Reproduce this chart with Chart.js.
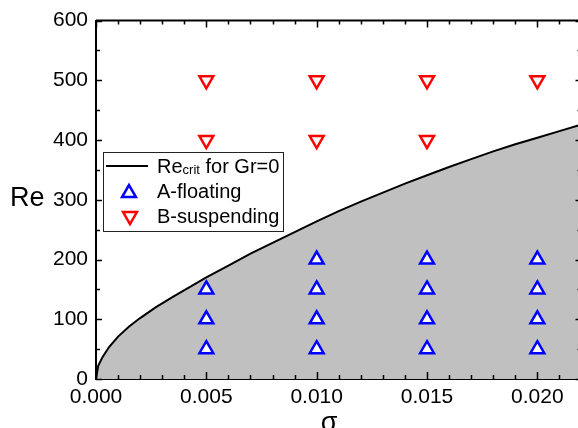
<!DOCTYPE html>
<html>
<head>
<meta charset="utf-8">
<script src="https://cdn.jsdelivr.net/npm/chart.js@4/dist/chart.umd.min.js"></script>
<style>
  html, body { margin: 0; padding: 0; background: #fff; overflow: hidden; }
  #wrap { width: 592px; height: 428px; }
</style>
</head>
<body>
<div id="wrap"><canvas id="re-chart" width="592" height="428"></canvas></div>
<script>
// critical Re curve (Gr = 0)
const sigmaCrit = [0, 0.0001, 0.0003, 0.0006, 0.001, 0.0015, 0.002, 0.0027, 0.0035, 0.0043,
                   0.005, 0.006, 0.007, 0.008, 0.009, 0.010, 0.011, 0.012, 0.013, 0.014,
                   0.015, 0.016, 0.017, 0.018, 0.019, 0.020, 0.021, 0.022];
const reCrit = [0, 22, 37, 54, 71, 88, 102, 120, 138, 155,
                170, 190, 210, 228, 246, 264, 281, 297, 312, 327,
                341, 355, 368, 381, 393, 404, 415, 426];

// A-floating cases
const floatSigma = [0.005, 0.005, 0.005, 0.010, 0.010, 0.010, 0.010,
                    0.015, 0.015, 0.015, 0.015, 0.020, 0.020, 0.020, 0.020];
const floatRe = [50, 100, 150, 50, 100, 150, 200, 50, 100, 150, 200, 50, 100, 150, 200];

// B-suspending cases
const suspSigma = [0.005, 0.005, 0.010, 0.010, 0.015, 0.015, 0.020];
const suspRe = [400, 500, 400, 500, 400, 500, 500];

// axis ticks
const xTicks = [0, 0.005, 0.010, 0.015, 0.020];
const yTicks = [0, 100, 200, 300, 400, 500, 600];

const toPoints = (xs, ys) => xs.map((x, i) => ({ x: x, y: ys[i] }));

const FONT = '"Liberation Sans", Arial, sans-serif';

/**
 * Inward ticks, frame, axis titles and the legend
 */
const framePlugin = {
    id: 'frame',
    afterDraw: function(chart) {
        const ctx = chart.ctx;
        const area = chart.chartArea;
        const xs = chart.scales.x;
        const ys = chart.scales.y;

        ctx.save();
        ctx.strokeStyle = '#000';
        ctx.lineWidth = 2;
        ctx.beginPath();
        ctx.moveTo(area.left, area.top);
        ctx.lineTo(area.right, area.top);
        ctx.lineTo(area.right, area.bottom);
        ctx.stroke();

        // x ticks, bottom and top
        ctx.lineWidth = 1.5;
        ctx.beginPath();
        for (let i = 0; i <= 22; i++) {
            const px = Math.round(xs.getPixelForValue(i * 0.001)) + 0.5;
            const len = i % 5 === 0 ? 7 : 4;
            ctx.moveTo(px, area.bottom);
            ctx.lineTo(px, area.bottom - len);
            ctx.moveTo(px, area.top);
            ctx.lineTo(px, area.top + len);
        }
        // y ticks, left and right
        for (let j = 0; j <= 12; j++) {
            const py = Math.round(ys.getPixelForValue(j * 50)) + 0.5;
            const len = j % 2 === 0 ? 6 : 4;
            ctx.moveTo(area.left, py);
            ctx.lineTo(area.left + len, py);
            ctx.moveTo(area.right, py);
            ctx.lineTo(area.right - len, py);
        }
        ctx.stroke();

        // axis titles
        ctx.fillStyle = '#000';
        ctx.textBaseline = 'alphabetic';
        ctx.textAlign = 'left';
        ctx.font = '27px ' + FONT;
        ctx.fillText('Re', 10, 206);
        ctx.textAlign = 'center';
        ctx.fillText('σ', 329, 431);

        // legend
        const lx = 103, ly = 152, lw = 180, lh = 79;
        ctx.fillStyle = '#fff';
        ctx.fillRect(lx, ly, lw, lh);
        ctx.strokeStyle = '#222';
        ctx.lineWidth = 1;
        ctx.strokeRect(lx + 0.5, ly + 0.5, lw, lh);

        ctx.strokeStyle = '#000';
        ctx.lineWidth = 2;
        ctx.beginPath();
        ctx.moveTo(106, 166);
        ctx.lineTo(148, 166);
        ctx.stroke();

        ctx.fillStyle = '#000';
        ctx.textAlign = 'left';
        ctx.font = '20px ' + FONT;
        ctx.fillText('Re', 157, 173);
        let tx = 157 + ctx.measureText('Re').width;
        ctx.font = '13px ' + FONT;
        ctx.fillText('crit', tx, 174);
        tx += ctx.measureText('crit').width;
        ctx.font = '20px ' + FONT;
        ctx.fillText(' for Gr=0', tx, 173);
        ctx.fillText('A-floating', 157, 198);
        ctx.fillText('B-suspending', 157, 223);

        ctx.fillStyle = '#fff';
        ctx.lineWidth = 2.5;
        ctx.strokeStyle = '#0000ff';
        Chart.helpers.drawPoint(ctx, { pointStyle: 'triangle', radius: 8, rotation: 0, borderWidth: 2.5 }, 129, 193);
        ctx.strokeStyle = '#ff0000';
        Chart.helpers.drawPoint(ctx, { pointStyle: 'triangle', radius: 8, rotation: 180, borderWidth: 2.5 }, 130, 216);

        ctx.restore();
    }
};

new Chart(document.getElementById('re-chart'), {
    type: 'scatter',
    data: {
        datasets: [
            {
                type: 'line',
                label: 'Re crit for Gr=0',
                data: toPoints(sigmaCrit, reCrit),
                borderColor: '#000',
                borderWidth: 2,
                backgroundColor: '#c0c0c0',
                fill: 'origin',
                pointRadius: 0,
                tension: 0,
                order: 10
            },
            {
                label: 'A-floating',
                data: toPoints(floatSigma, floatRe),
                pointStyle: 'triangle',
                pointRadius: 8,
                pointRotation: 0,
                borderColor: '#0000ff',
                backgroundColor: '#fff',
                borderWidth: 2.5,
                order: 1
            },
            {
                label: 'B-suspending',
                data: toPoints(suspSigma, suspRe),
                pointStyle: 'triangle',
                pointRadius: 8,
                pointRotation: 180,
                borderColor: '#ff0000',
                backgroundColor: '#fff',
                borderWidth: 2.5,
                order: 1
            }
        ]
    },
    options: {
        responsive: false,
        animation: false,
        devicePixelRatio: 1,
        layout: { padding: { top: 18, right: 2, bottom: 0, left: 0 } },
        plugins: {
            legend: { display: false },
            tooltip: { enabled: false },
            title: { display: false }
        },
        scales: {
            x: {
                type: 'linear',
                min: 0,
                max: 0.022,
                afterFit: function(scale) { scale.height = 49; },
                afterBuildTicks: function(scale) {
                    scale.ticks = xTicks.map(v => ({ value: v }));
                },
                grid: { display: false, drawTicks: false },
                border: { display: true, color: '#000', width: 2 },
                ticks: {
                    padding: 6,
                    color: '#000',
                    font: { family: FONT, size: 21 },
                    maxRotation: 0,
                    callback: v => v.toFixed(3)
                }
            },
            y: {
                type: 'linear',
                min: 0,
                max: 600,
                afterFit: function(scale) { scale.width = 96; },
                afterBuildTicks: function(scale) {
                    scale.ticks = yTicks.map(v => ({ value: v }));
                },
                grid: { display: false, drawTicks: false },
                border: { display: true, color: '#000', width: 2 },
                ticks: {
                    padding: 8,
                    color: '#000',
                    font: { family: FONT, size: 21 },
                    callback: v => String(v)
                }
            }
        }
    },
    plugins: [framePlugin]
});
</script>
</body>
</html>
